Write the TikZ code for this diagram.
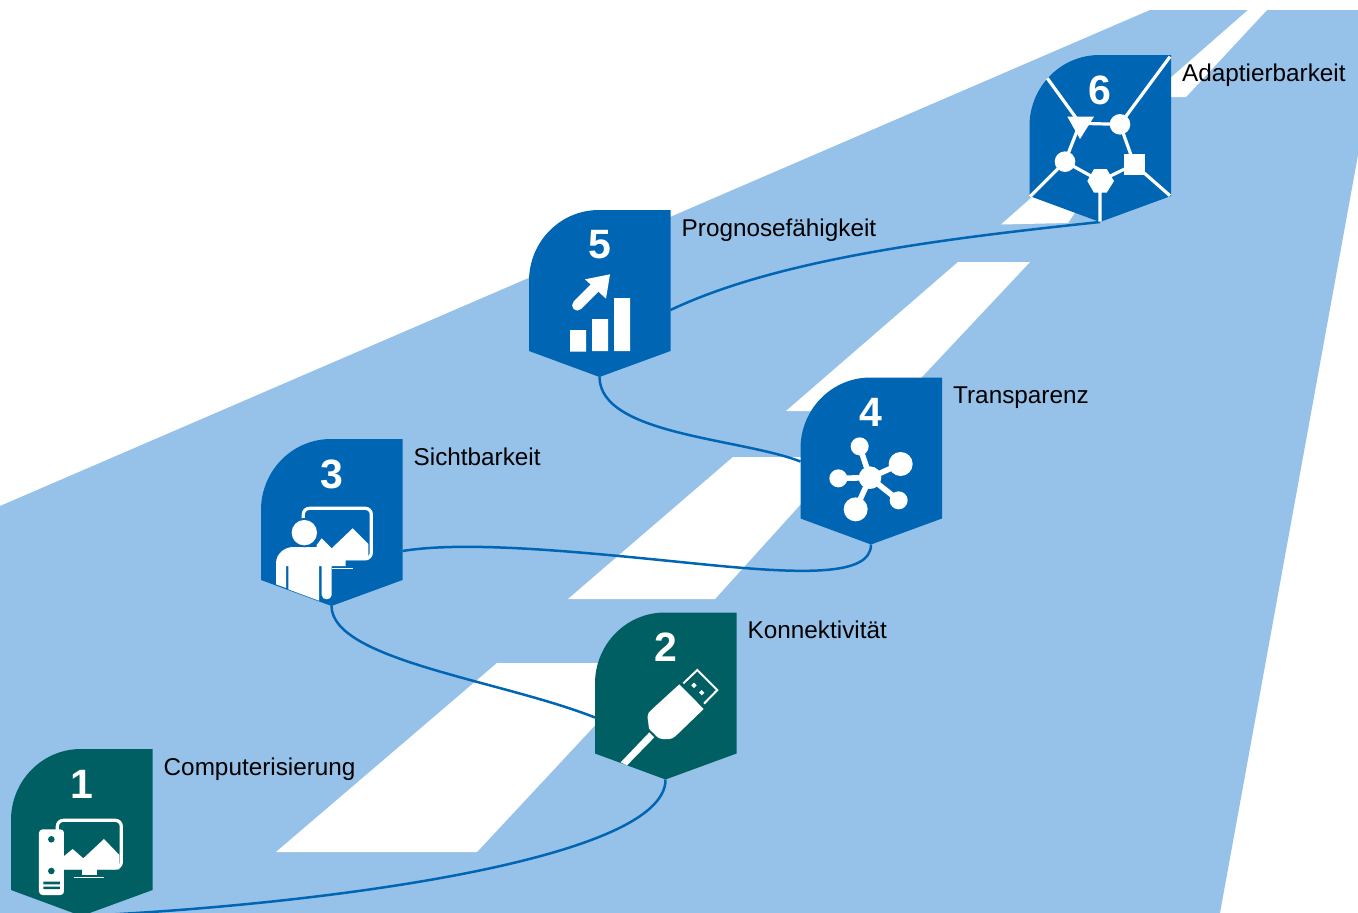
\documentclass[tikz,border=0pt]{standalone}
\usepackage{fontspec}
\setmainfont{Liberation Sans}
\definecolor{lightb}{RGB}{150,193,233}
\definecolor{deepb}{RGB}{0,102,179}
\definecolor{teal6}{RGB}{0,95,99}
\tikzset{
  zs/.style 2 args={shift={(#1,#2)},x=0.33333pt,y=-0.33333pt},
  wire/.style={draw=deepb,line width=2.5pt},
  stripe/.style={fill=white,draw=none},
  ink/.style={fill=white,draw=none},
  numtxt/.style={text=white,font=\fontsize{41}{41}\selectfont\bfseries,inner sep=0pt},
  labtxt/.style={anchor=base west,inner sep=0pt,text=black,font=\fontsize{24.3}{24.3}\selectfont},
  pics/badge/.style n args={3}{code={
    \fill[#3] (0,71) .. controls (0,32) and (31,0) .. (70,0) -- (141.5,0) -- (141.5,141) -- (70.5,167) -- (0,141) -- cycle;
    \node[numtxt] (-num) at (70.5,35) {#1};
    \node[labtxt] (-lab) at (152.5,26) {#2};
    \coordinate (-bot) at (70.5,167);
    \coordinate (-left) at (0,105);
    \coordinate (-right) at (141.5,100);
  }}
}
\begin{document}
\begin{tikzpicture}[x=1pt,y=-1pt]
\useasboundingbox (0,0) rectangle (1358,913);
\clip (0,0) rectangle (1358,913);
\fill[white] (0,0) rectangle (1358,913);
\fill[lightb] (0,506) -- (1150,10) -- (1358,10) -- (1358,155) -- (1220,913) -- (0,913) -- cycle;
% stripes
\fill[stripe] (276,852) -- (497,663) -- (600,663) -- (600,720) -- (477,852) -- cycle;
\fill[stripe] (568,599) -- (733,457) -- (810,457) -- (810,494) -- (715,599) -- cycle;
\fill[stripe] (786,411) -- (958,262) -- (1030,262) -- (890,411) -- cycle;
\fill[stripe] (1001,224.5) -- (1040,190) -- (1090,190) -- (1068,223) -- cycle;
\fill[stripe] (1160,97) -- (1160,87) -- (1248,10) -- (1267,10) -- (1186,97) -- cycle;
% badges
\pic (b1) at (11,749) {badge={1}{Computerisierung}{teal6}};
\pic (b2) at (595,612.5) {badge={2}{Konnektivität}{teal6}};
\pic (b3) at (261,439) {badge={3}{Sichtbarkeit}{deepb}};
\pic (b4) at (800.5,377.5) {badge={4}{Transparenz}{deepb}};
\pic (b5) at (529,210) {badge={5}{Prognosefähigkeit}{deepb}};
\pic (b6) at (1029.5,55) {badge={6}{Adaptierbarkeit}{deepb}};
% connectors
\draw[wire] (b1-bot) .. controls (320,905) and (666,860) .. (b2-bot);
\draw[wire] (b2-left) .. controls (500,680) and (332,660) .. (b3-bot);
\draw[wire] ([yshift=-12pt]b3-right) .. controls (470,540) and (590,553) .. (700,564) .. controls (800,574) and (871,577) .. (b4-bot);
\draw[wire] ([yshift=21pt]b4-left) .. controls (740,438) and (600,435) .. (b5-bot);
\draw[wire] (b5-right) .. controls (780,258) and (950,238) .. (b6-bot);
% icon 1
\begin{scope}[zs={0}{740}]
  \draw[draw=white,line width=3.2pt,rounded corners=6pt] (172,241) rectangle (364,384);
  \fill[ink] (190,350) -- (218,327) -- (250,355) -- (312,297) -- (358,345) -- (358,388) -- (190,388) -- cycle;
  \fill[ink] (245,388) rectangle (292,406);
  \fill[ink] (222,410) rectangle (312,415);
  \fill[ink,rounded corners=3.5pt] (117,268) rectangle (192,465);
  \fill[teal6] (154,298) circle[radius=3.3pt] (154,393) circle[radius=3.3pt];
  \fill[teal6] (130,425) rectangle (180,433) (130,440) rectangle (180,447);
\end{scope}
% icon 2
\begin{scope}[zs={585}{605}]
  \fill[ink] (283,238) -- (356,312) -- (272,393) .. controls (258,406) and (245,402) .. (232,402) .. controls (215,402) and (210,385) .. (198,378) .. controls (188,370) and (192,358) .. (188,340) .. controls (186,325) and (195,318) .. (202,312) -- cycle;
  \fill[ink] (193,382) -- (208,397) -- (126,481) -- (107,472) -- cycle;
  \draw[draw=white,line width=2pt] (295,235) -- (337,195) -- (397,255) -- (357,296);
  \fill[ink] (327,233) -- (335,241) -- (327,249) -- (319,241) -- cycle;
  \fill[ink] (350,255) -- (358,263) -- (350,271) -- (342,263) -- cycle;
\end{scope}
% icon 3
\begin{scope}[zs={250}{430}]
  \draw[draw=white,line width=3.2pt,rounded corners=6pt] (160,235) rectangle (364,386);
  \fill[ink] (200,345) -- (215,325) -- (245,355) -- (308,295) -- (355,342) -- (355,390) -- (287,390) -- (287,408) -- (245,408) -- (245,495) .. controls (245,512) and (215,512) .. (215,495) -- (215,408) -- (207,408) -- (207,512) -- (115,478) -- (115,408) -- (108,408) -- (108,474) -- (78,463) -- (78,400) .. controls (78,370) and (105,351) .. (130,351) -- (200,351) -- cycle;
  \fill[ink] (245,413) rectangle (308,418);
  \fill[deepb] (163,308) circle[radius=14.6pt];
  \fill[ink] (163,308) circle[radius=12.7pt];
\end{scope}
% icon 4
\begin{scope}[zs={790}{370}]
  \draw[draw=white,line width=5.6pt] (209,229) -- (240,323) (332,282) -- (240,323) (326,391) -- (240,323) (197,418) -- (240,323) (145,325) -- (240,323);
  \fill[ink] (240,323) circle[radius=11.3pt] (209,229) circle[radius=9pt] (332,282) circle[radius=12pt] (326,391) circle[radius=9pt] (197,418) circle[radius=12pt] (145,325) circle[radius=9pt];
\end{scope}
% icon 5
\begin{scope}[zs={520}{200}]
  \fill[ink] (150,390) rectangle (198,455) (216,357) rectangle (264,453) (282,294) rectangle (330,453);
  \draw[draw=white,line width=10.5pt,line cap=round] (172,316) -- (230,258);
  \fill[ink] (195,238) -- (270,223) -- (258,296) -- cycle;
\end{scope}
% icon 6
\begin{scope}[zs={1020}{45}]
  \draw[draw=white,line width=3.2pt] (82,100) -- (180,235) (450,35) -- (300,238) (30,455) -- (135,350) (450,452) -- (343,358) (240,408) -- (240,530);
  \draw[draw=white,line width=3.2pt] (180,235) -- (300,238) -- (343,358) -- (240,408) -- (135,350) -- cycle;
  \fill[ink] (142,215) -- (222,215) -- (180,282) -- cycle;
  \fill[ink] (300,238) circle[radius=10.3pt] (135,350) circle[radius=10.3pt];
  \fill[ink] (312,327) rectangle (375,389);
  \fill[ink] (202,408) -- (222,372) -- (260,372) -- (282,408) -- (260,443) -- (222,443) -- cycle;
\end{scope}
\end{tikzpicture}
\end{document}
